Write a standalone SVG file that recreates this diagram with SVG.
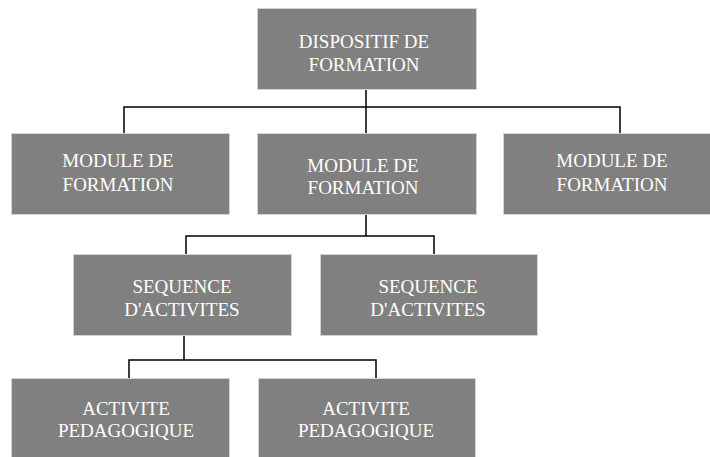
<svg xmlns="http://www.w3.org/2000/svg" width="710" height="457" viewBox="0 0 710 457">
<style>
.box{fill:#808080;stroke:#d4d4d4;stroke-width:1}
.t{font-family:"Liberation Serif","Times New Roman",serif;font-size:19px;fill:#ffffff;text-anchor:middle}
.c{fill:none;stroke:#000000;stroke-width:1.5}
</style>
<rect width="710" height="457" fill="#ffffff"/>
<g id="connectors">
<path class="c" d="M366,90 V133 M124,133 V107 H620 V133"/>
<path class="c" d="M366,215 V236 M186,254 V236 H434 V254"/>
<path class="c" d="M184,336 V360 M129,378 V360 H376 V378"/>
</g>
<g id="n1"><rect class="box" x="257.5" y="8.5" width="219" height="81"/>
<text class="t" x="364" y="48">DISPOSITIF DE</text><text class="t" x="364" y="71">FORMATION</text></g>
<g id="n2"><rect class="box" x="11.5" y="133.5" width="218" height="81"/>
<text class="t" x="118" y="167">MODULE DE</text><text class="t" x="118" y="191">FORMATION</text></g>
<g id="n3"><rect class="box" x="257.5" y="133.5" width="219" height="81"/>
<text class="t" x="363" y="172">MODULE DE</text><text class="t" x="363" y="194">FORMATION</text></g>
<g id="n4"><rect class="box" x="503.5" y="133.5" width="218" height="81"/>
<text class="t" x="612" y="167">MODULE DE</text><text class="t" x="612" y="191">FORMATION</text></g>
<g id="n5"><rect class="box" x="73.5" y="254.5" width="218" height="81"/>
<text class="t" x="182" y="293">SEQUENCE</text><text class="t" x="182" y="316">D'ACTIVITES</text></g>
<g id="n6"><rect class="box" x="320.5" y="254.5" width="217" height="81"/>
<text class="t" x="428" y="293">SEQUENCE</text><text class="t" x="428" y="316">D'ACTIVITES</text></g>
<g id="n7"><rect class="box" x="11.5" y="378.5" width="218" height="90"/>
<text class="t" x="126" y="415">ACTIVITE</text><text class="t" x="126" y="437">PEDAGOGIQUE</text></g>
<g id="n8"><rect class="box" x="258.5" y="378.5" width="217" height="90"/>
<text class="t" x="366" y="415">ACTIVITE</text><text class="t" x="366" y="437">PEDAGOGIQUE</text></g>
</svg>
